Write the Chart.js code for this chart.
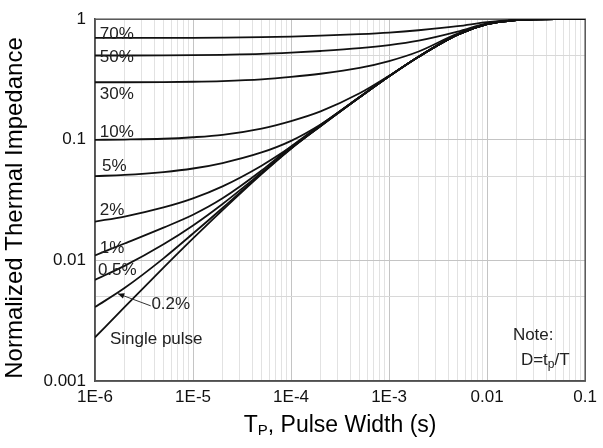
<!DOCTYPE html>
<html>
<head>
<meta charset="utf-8">
<script src="https://cdn.jsdelivr.net/npm/chart.js@4"></script>
<style>
  html, body { margin: 0; padding: 0; background: #fff; }
  #wrap { width: 603px; height: 448px; }
</style>
</head>
<body>
<div id="wrap"><canvas id="zthChart" width="603" height="448"></canvas></div>
<script>
// pulse width (s) where the curves are sampled
const pulseWidth = [1e-6, 2e-6, 5e-6, 1e-5, 2e-5, 5e-5, 1e-4, 2e-4, 5e-4, 1e-3, 2e-3, 5e-3, 1e-2, 2e-2, 3e-2, 5e-2, 1e-1];

// normalized thermal impedance for each duty cycle
const duty70 = [0.70, 0.70, 0.70, 0.701, 0.704, 0.71, 0.718, 0.73, 0.752, 0.775, 0.81, 0.875, 0.945, 0.99, 0.998, 1.0, 1.0];
const duty50 = [0.50, 0.50, 0.501, 0.503, 0.507, 0.515, 0.528, 0.545, 0.575, 0.61, 0.665, 0.79, 0.925, 0.987, 0.997, 1.0, 1.0];
const duty30 = [0.300, 0.300, 0.301, 0.303, 0.307, 0.317, 0.332, 0.353, 0.395, 0.45, 0.54, 0.76, 0.915, 0.985, 0.996, 1.0, 1.0];
const duty10 = [0.100, 0.1005, 0.102, 0.105, 0.110, 0.124, 0.143, 0.172, 0.243, 0.34, 0.489, 0.745, 0.91, 0.985, 0.995, 1.0, 1.0];
const duty5 = [0.050, 0.0511, 0.054, 0.0578, 0.0642, 0.0785, 0.098, 0.134, 0.226, 0.337, 0.488, 0.744, 0.91, 0.985, 0.995, 1.0, 1.0];
const duty2 = [0.021, 0.0231, 0.0275, 0.0327, 0.0411, 0.061, 0.0874, 0.1306, 0.225, 0.336, 0.488, 0.744, 0.91, 0.985, 0.995, 1.0, 1.0];
const duty1 = [0.011, 0.0138, 0.0187, 0.0239, 0.0327, 0.0556, 0.0879, 0.133, 0.226, 0.336, 0.488, 0.744, 0.91, 0.985, 0.995, 1.0, 1.0];
const duty05 = [0.0069, 0.0090, 0.0136, 0.0195, 0.0294, 0.0535, 0.0851, 0.130, 0.225, 0.336, 0.488, 0.744, 0.91, 0.985, 0.995, 1.0, 1.0];
const duty02 = [0.0041, 0.0059, 0.0104, 0.0167, 0.0272, 0.0527, 0.0851, 0.1306, 0.225, 0.336, 0.488, 0.744, 0.91, 0.985, 0.995, 1.0, 1.0];
const singlePulse = [0.0023, 0.0041, 0.0087, 0.0152, 0.0261, 0.0519, 0.0843, 0.1296, 0.225, 0.336, 0.488, 0.744, 0.91, 0.985, 0.995, 1.0, 1.0];

const curveNames = ['70%', '50%', '30%', '10%', '5%', '2%', '1%', '0.5%', '0.2%', 'Single pulse'];
const curveValues = [duty70, duty50, duty30, duty10, duty5, duty2, duty1, duty05, duty02, singlePulse];

// axis ticks
const xMajor = [1e-6, 1e-5, 1e-4, 1e-3, 1e-2, 1e-1];
const xMajorLabels = ['1E-6', '1E-5', '1E-4', '1E-3', '0.01', '0.1'];
const yMajor = [0.001, 0.01, 0.1, 1];
const yMajorLabels = ['0.001', '0.01', '0.1', '1'];
const yHalf = [0.005, 0.05, 0.5];

const FONT = 'Arial, "Liberation Sans", sans-serif';

// where the curve names sit, in data units (pulse width, impedance)
const tagSpots = [
  { text: '70%', t: 1.12e-6, z: 0.748 },
  { text: '50%', t: 1.12e-6, z: 0.482 },
  { text: '30%', t: 1.12e-6, z: 0.237 },
  { text: '10%', t: 1.12e-6, z: 0.116 },
  { text: '5%', t: 1.18e-6, z: 0.0605 },
  { text: '2%', t: 1.12e-6, z: 0.0261 },
  { text: '1%', t: 1.12e-6, z: 0.0125 },
  { text: '0.5%', t: 1.07e-6, z: 0.0083 },
  { text: '0.2%', t: 3.76e-6, z: 0.00431 },
  { text: 'Single pulse', t: 1.42e-6, z: 0.00223 },
  { text: 'Note:', t: 0.0183, z: 0.00237 }
];

function sameLog(a, b) {
  return Math.abs(Math.log10(a) - Math.log10(b)) < 1e-6;
}

function labelFor(value, majors, labels) {
  const i = majors.findIndex(m => sameLog(m, value));
  return i >= 0 ? labels[i] : '';
}

// 1..9 per decade for the x grid
const xGridValues = [];
for (let d = -6; d <= -2; d++) {
  for (let m = 1; m <= 9; m++) xGridValues.push(m * Math.pow(10, d));
}
xGridValues.push(0.1);

const yGridValues = [...yMajor, ...yHalf].sort((a, b) => a - b);

const datasets = curveNames.map((name, i) => ({
  label: name,
  data: pulseWidth.map((t, j) => ({ x: t, y: curveValues[i][j] })),
  borderColor: '#111',
  borderWidth: 1.8,
  pointRadius: 0,
  fill: false,
  cubicInterpolationMode: 'monotone'
}));

const decorations = {
  id: 'decorations',
  beforeDatasetsDraw(chart) {
    const { ctx, chartArea } = chart;
    ctx.save();
    ctx.strokeStyle = '#555';
    ctx.lineWidth = 1.5;
    ctx.strokeRect(chartArea.left, chartArea.top, chartArea.width, chartArea.height);
    ctx.restore();
  },
  afterDatasetsDraw(chart) {
    const { ctx, scales: { x, y } } = chart;
    ctx.save();
    ctx.fillStyle = '#222';
    ctx.font = '17px ' + FONT;
    ctx.textBaseline = 'middle';
    ctx.textAlign = 'left';
    tagSpots.forEach(s => ctx.fillText(s.text, x.getPixelForValue(s.t), y.getPixelForValue(s.z)));

    // D=tp/T with subscript p
    let px = x.getPixelForValue(0.0221);
    const py = y.getPixelForValue(0.00148);
    ctx.fillText('D=t', px, py);
    px += ctx.measureText('D=t').width;
    ctx.font = '12px ' + FONT;
    ctx.fillText('p', px, py + 4);
    px += ctx.measureText('p').width;
    ctx.font = '17px ' + FONT;
    ctx.fillText('/T', px, py);

    // pointer from the 0.2% tag to its curve
    const x0 = x.getPixelForValue(3.7e-6), y0 = y.getPixelForValue(0.0042);
    const x1 = x.getPixelForValue(1.71e-6), y1 = y.getPixelForValue(0.0053);
    ctx.strokeStyle = '#333';
    ctx.lineWidth = 1;
    ctx.beginPath();
    ctx.moveTo(x0, y0);
    ctx.lineTo(x1, y1);
    ctx.stroke();
    const ang = Math.atan2(y1 - y0, x1 - x0);
    ctx.fillStyle = '#111';
    ctx.beginPath();
    ctx.moveTo(x1, y1);
    ctx.lineTo(x1 - 7 * Math.cos(ang - 0.4), y1 - 7 * Math.sin(ang - 0.4));
    ctx.lineTo(x1 - 7 * Math.cos(ang + 0.4), y1 - 7 * Math.sin(ang + 0.4));
    ctx.closePath();
    ctx.fill();
    ctx.restore();
  },
  afterDraw(chart) {
    const { ctx, chartArea } = chart;
    ctx.save();
    ctx.fillStyle = '#000';
    ctx.textBaseline = 'middle';

    // x title: T with subscript P
    const big = '23px ' + FONT, small = '15px ' + FONT;
    const rest = ', Pulse Width (s)';
    ctx.font = big;
    const wT = ctx.measureText('T').width;
    const wRest = ctx.measureText(rest).width;
    ctx.font = small;
    const wP = ctx.measureText('P').width;
    const cx = (chartArea.left + chartArea.right) / 2;
    let tx = cx - (wT + wP + wRest) / 2;
    const ty = 426;
    ctx.textAlign = 'left';
    ctx.font = big;
    ctx.fillText('T', tx, ty);
    tx += wT;
    ctx.font = small;
    ctx.fillText('P', tx, ty + 5);
    tx += wP;
    ctx.font = big;
    ctx.fillText(rest, tx, ty);

    // y title
    ctx.translate(15, 208);
    ctx.rotate(-Math.PI / 2);
    ctx.textAlign = 'center';
    ctx.font = '24px ' + FONT;
    ctx.fillText('Normalized Thermal Impedance', 0, 0);
    ctx.restore();
  }
};

new Chart(document.getElementById('zthChart'), {
  type: 'line',
  data: { datasets },
  options: {
    responsive: false,
    animation: false,
    devicePixelRatio: 1,
    layout: { padding: { top: 12, right: 13, left: 0, bottom: 0 } },
    plugins: { legend: { display: false }, tooltip: { enabled: false } },
    scales: {
      x: {
        type: 'logarithmic',
        min: 1e-6,
        max: 0.1,
        afterBuildTicks: scale => { scale.ticks = xGridValues.map(v => ({ value: v })); },
        afterFit: scale => { scale.height = 67; },
        ticks: {
          autoSkip: false,
          maxRotation: 0,
          padding: 6,
          color: '#111',
          font: { family: FONT, size: 17 },
          callback: v => labelFor(v, xMajor, xMajorLabels)
        },
        grid: {
          drawTicks: false,
          color: c => xMajor.some(m => sameLog(m, c.tick.value)) ? '#c4c4c4' : '#e2e2e2',
          lineWidth: 1
        },
        border: { display: true, color: '#444', width: 1.5 }
      },
      y: {
        type: 'logarithmic',
        min: 0.001,
        max: 1,
        afterBuildTicks: scale => { scale.ticks = yGridValues.map(v => ({ value: v })); },
        afterFit: scale => { scale.width = 95; },
        ticks: {
          autoSkip: false,
          padding: 9,
          color: '#111',
          font: { family: FONT, size: 17 },
          callback: v => labelFor(v, yMajor, yMajorLabels)
        },
        grid: {
          drawTicks: false,
          color: c => yMajor.some(m => sameLog(m, c.tick.value)) ? '#c4c4c4' : '#d8d8d8',
          lineWidth: 1
        },
        border: { display: true, color: '#444', width: 1.5 }
      }
    }
  },
  plugins: [decorations]
});
</script>
</body>
</html>
